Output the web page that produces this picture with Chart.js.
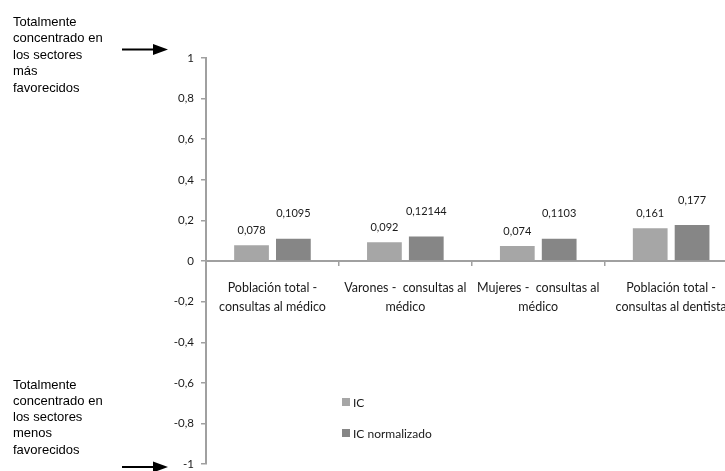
<!DOCTYPE html>
<html>
<head>
<meta charset="utf-8">
<script src="https://cdn.jsdelivr.net/npm/chart.js@4.4.0/dist/chart.umd.min.js"></script>
<style>
  html, body { margin: 0; padding: 0; background: #fff; overflow: hidden; }
  #wrap { width: 740px; height: 478px; }
</style>
</head>
<body>
<div id="wrap"><canvas id="grafico" width="740" height="478"></canvas></div>
<script>
// datos del gráfico
const categorias = [
    ['Población total -', 'consultas al médico'],
    ['Varones -  consultas al', 'médico'],
    ['Mujeres -  consultas al', 'médico'],
    ['Población total -', 'consultas al dentista']
];
const valoresIC = [0.078, 0.092, 0.074, 0.161];
const valoresICNorm = [0.1095, 0.12144, 0.1103, 0.177];
const etiquetasIC = ['0,078', '0,092', '0,074', '0,161'];
const etiquetasICNorm = ['0,1095', '0,12144', '0,1103', '0,177'];
const nombresSeries = ['IC', 'IC normalizado'];
const coloresSeries = ['#a6a6a6', '#868686'];
const notaArriba = ['Totalmente', 'concentrado en', 'los sectores', 'más', 'favorecidos'];
const notaAbajo = ['Totalmente', 'concentrado en', 'los sectores', 'menos', 'favorecidos'];

const fuenteCal = 'Lato, "Open Sans", sans-serif';

function flecha(ctx, x1, x2, y) {
    ctx.save();
    ctx.strokeStyle = '#000';
    ctx.fillStyle = '#000';
    ctx.lineWidth = 2;
    ctx.beginPath();
    ctx.moveTo(x1, y);
    ctx.lineTo(x2 - 12, y);
    ctx.stroke();
    ctx.beginPath();
    ctx.moveTo(x2 - 15, y - 5.5);
    ctx.lineTo(x2, y);
    ctx.lineTo(x2 - 15, y + 5.5);
    ctx.closePath();
    ctx.fill();
    ctx.restore();
}

const extras = {
    id: 'extras',
    afterDatasetsDraw(chart) {
        const ctx = chart.ctx;
        // etiquetas de datos sobre las barras
        const listas = [etiquetasIC, etiquetasICNorm];
        const desplaz = [15, 25];
        ctx.save();
        ctx.font = '11px ' + fuenteCal;
        ctx.fillStyle = '#1a1a1a';
        ctx.textAlign = 'center';
        ctx.textBaseline = 'middle';
        chart.data.datasets.forEach((ds, i) => {
            const meta = chart.getDatasetMeta(i);
            meta.data.forEach((barra, j) => {
                ctx.fillText(listas[i][j], barra.x, barra.y - desplaz[i]);
            });
        });

        // leyenda dentro del área
        ctx.textAlign = 'left';
        ctx.font = '12px ' + fuenteCal;
        const ly = [402, 433];
        nombresSeries.forEach((n, i) => {
            ctx.fillStyle = coloresSeries[i];
            ctx.fillRect(342, ly[i] - 4, 8, 8);
            ctx.fillStyle = '#1a1a1a';
            ctx.fillText(n, 353, ly[i] + 1);
        });

        // notas de la izquierda
        ctx.font = '13px "Liberation Sans", Arial, sans-serif';
        ctx.fillStyle = '#000';
        notaArriba.forEach((t, k) => ctx.fillText(t, 13, 22 + k * 16.5));
        notaAbajo.forEach((t, k) => ctx.fillText(t, 13, 385 + k * 16.3));
        ctx.restore();

        flecha(ctx, 122, 168, 49.5);
        flecha(ctx, 122, 168, 467);
    }
};

new Chart(document.getElementById('grafico'), {
    type: 'bar',
    data: {
        labels: categorias,
        datasets: [
            { label: nombresSeries[0], data: valoresIC, backgroundColor: coloresSeries[0], borderWidth: 0 },
            { label: nombresSeries[1], data: valoresICNorm, backgroundColor: coloresSeries[1], borderWidth: 0 }
        ]
    },
    options: {
        responsive: false,
        animation: false,
        categoryPercentage: 0.63,
        barPercentage: 0.83,
        layout: { padding: { left: 0, top: 58, right: 2, bottom: 0 } },
        plugins: { legend: { display: false }, tooltip: { enabled: false } },
        scales: {
            x: {
                position: { y: 0 },
                grid: { display: true, offset: true, drawOnChartArea: false, drawTicks: true, tickLength: 4, color: '#a0a0a0', lineWidth: 1.5 },
                border: { display: true, color: '#a0a0a0', width: 2 },
                ticks: { color: '#1a1a1a', font: { family: fuenteCal, size: 12.5, lineHeight: 1.55 }, padding: 13, maxRotation: 0, autoSkip: false }
            },
            y: {
                min: -1, max: 1,
                afterFit(scale) { scale.width = 206; },
                grid: { display: true, drawOnChartArea: false, drawTicks: true, tickLength: 5, color: '#a0a0a0', lineWidth: 1.5 },
                border: { display: true, color: '#a0a0a0', width: 2 },
                ticks: {
                    stepSize: 0.2, padding: 7, color: '#1a1a1a',
                    font: { family: fuenteCal, size: 11.5 },
                    callback: v => (Math.round(v * 10) / 10).toString().replace('.', ',')
                }
            }
        }
    },
    plugins: [extras]
});
</script>
</body>
</html>
